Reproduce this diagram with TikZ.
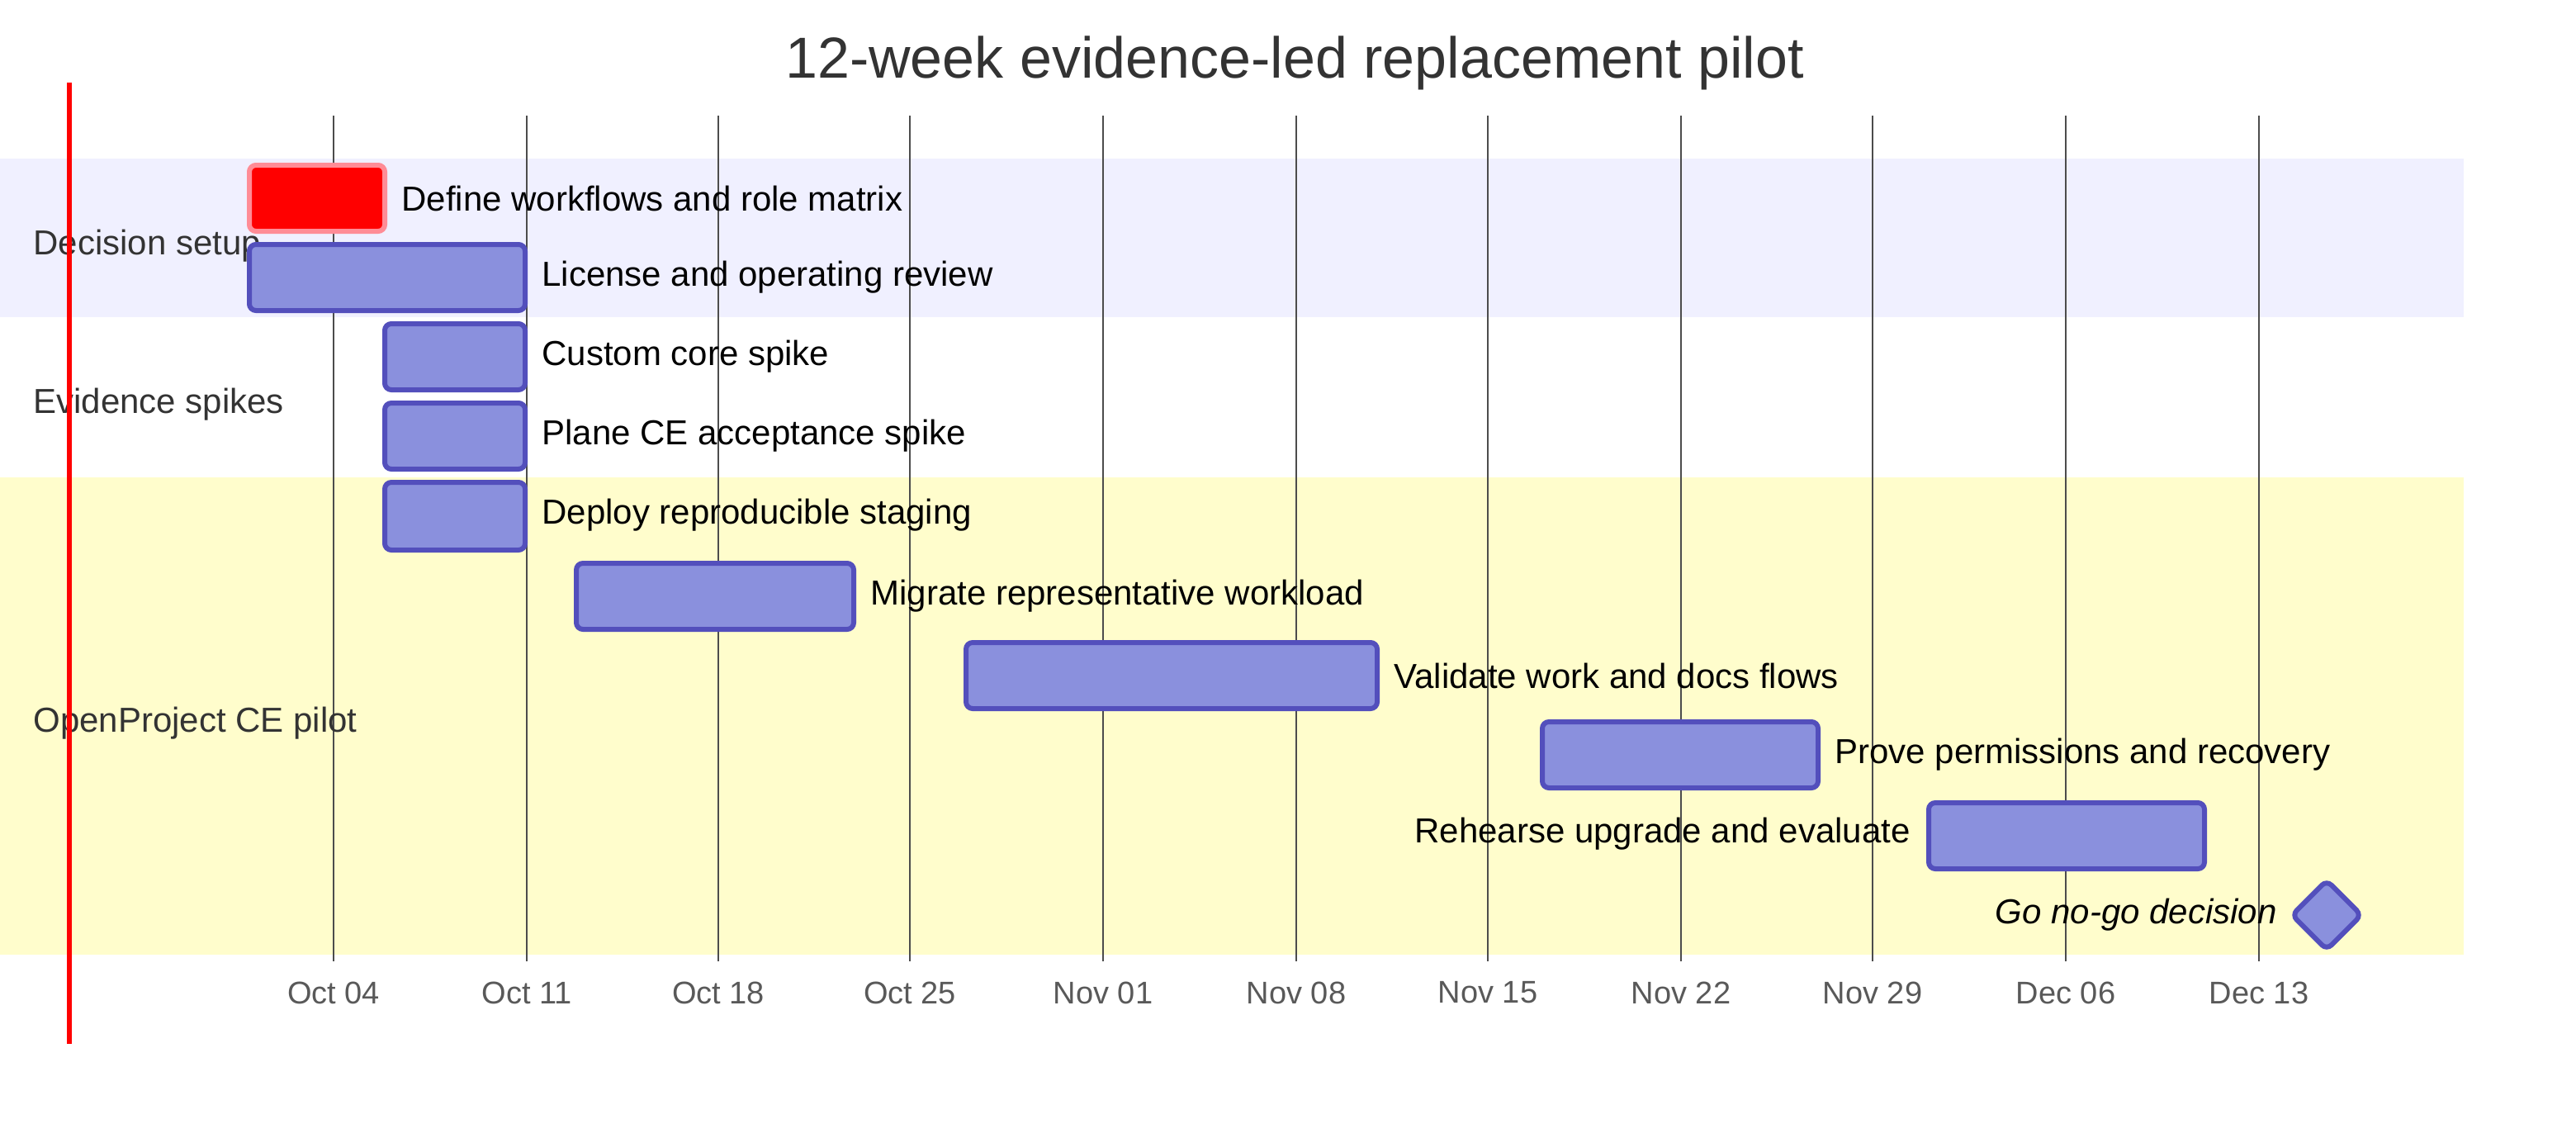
\documentclass[tikz,border=0pt]{standalone}
\usepackage{fontspec}
\setmainfont{Liberation Sans}
\begin{document}
\begin{tikzpicture}[x=1pt,y=-1pt,
 bar/.style={draw=barb,fill=barf,line width=3pt,rounded corners=4pt},
 lab/.style={anchor=west,font=\fontsize{21}{24}\selectfont,inner sep=0pt},
 labl/.style={anchor=east,font=\fontsize{21}{24}\selectfont,inner sep=0pt},
 sec/.style={anchor=west,font=\fontsize{21}{24}\selectfont,text=black!80,inner sep=0pt},
 tick/.style={font=\fontsize{19}{22}\selectfont,text=black!65,inner sep=0pt},
 grid/.style={draw=black!70,line width=1.2pt}]
\definecolor{barf}{HTML}{8A90DD}
\definecolor{barb}{HTML}{534FBC}
\useasboundingbox (0,0) rectangle (1560,680);
\fill[fill={rgb,255:red,240;green,240;blue,255}] (0,96) rectangle (1492,192);
\fill[fill={rgb,255:red,255;green,253;blue,204}] (0,289) rectangle (1492,578);
\node[font=\fontsize{35}{40}\selectfont,text=black!80] (title) at (784,38) {12-week evidence-led replacement pilot};
\foreach \x/\t [count=\i] in {202/Oct 04,319/Oct 11,435/Oct 18,551/Oct 25,668/Nov 01,785/Nov 08,901/Nov 15,1018/Nov 22,1134/Nov 29,1251/Dec 06,1368/Dec 13}{
 \draw[grid] (\x,70) -- (\x,582);
 \node[tick] (t\i) at (\x,601) {\t};
}
\node[sec] (s1) at (20,149) {Decision setup};
\node[sec] (s2) at (20,245) {Evidence spikes};
\node[sec] (s3) at (20,438) {OpenProject CE pilot};
\draw[draw={rgb,255:red,255;green,140;blue,150},fill=red,line width=3pt,rounded corners=4pt] (151,100) rectangle (233,140);
\node[lab] (l1) at (243,120) {Define workflows and role matrix};
\draw[bar] (151,148) rectangle (318,188); \node[lab] (l2) at (328,168) {License and operating review};
\draw[bar] (233,196) rectangle (318,236); \node[lab] (l3) at (328,216) {Custom core spike};
\draw[bar] (233,244) rectangle (318,284); \node[lab] (l4) at (328,264) {Plane CE acceptance spike};
\draw[bar] (233,292) rectangle (318,333); \node[lab] (l5) at (328,312) {Deploy reproducible staging};
\draw[bar] (349,341) rectangle (517,381); \node[lab] (l6) at (527,361) {Migrate representative workload};
\draw[bar] (585,389) rectangle (834,429); \node[lab] (l7) at (844,409) {Validate work and docs flows};
\draw[bar] (934,437) rectangle (1101,477); \node[lab] (l8) at (1111,457) {Prove permissions and recovery};
\draw[bar] (1168,486) rectangle (1335,526); \node[labl] (l9) at (1157,505) {Rehearse upgrade and evaluate};
\draw[bar] (1409,533) -- (1430,554) -- (1409,575) -- (1388,554) -- cycle;
\node[labl,font=\fontsize{21}{24}\selectfont\itshape] (l10) at (1379,554) {Go no-go decision};
\draw[red,line width=3pt] (42,50) -- (42,632);
\end{tikzpicture}
\end{document}
